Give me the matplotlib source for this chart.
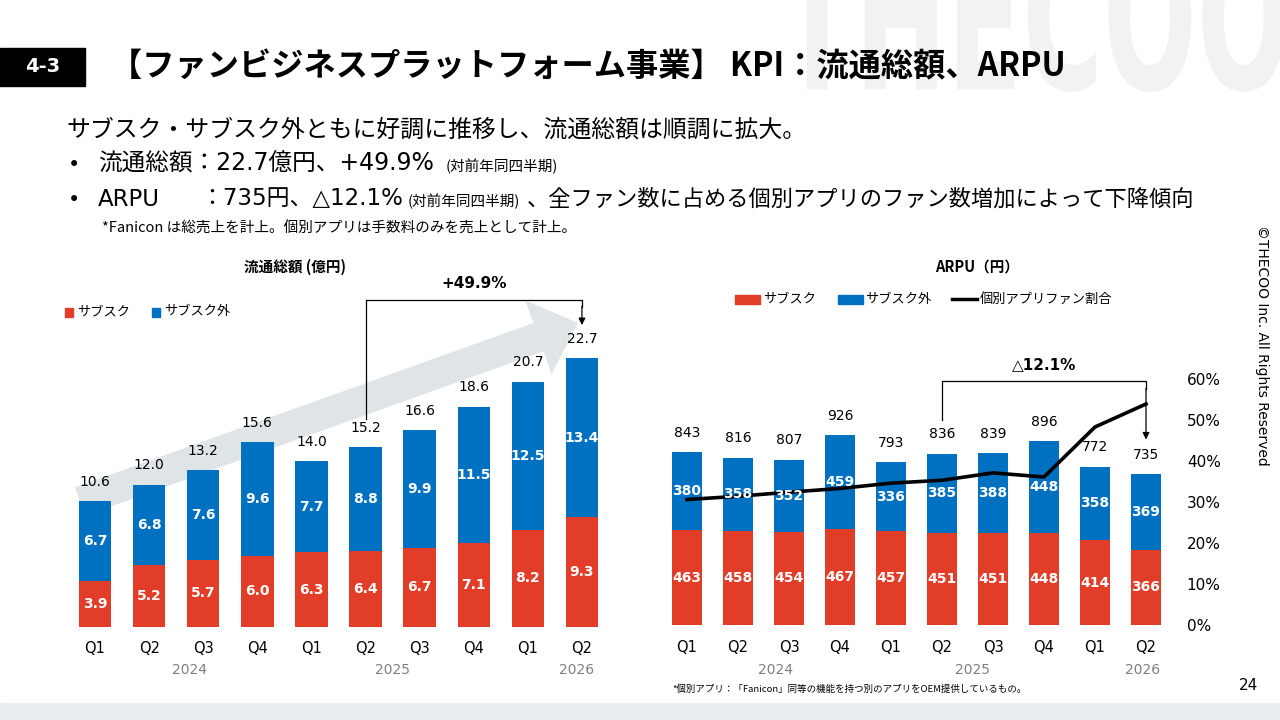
import matplotlib
matplotlib.use('Agg')
import matplotlib.pyplot as plt
from matplotlib.patches import Rectangle, Polygon, PathPatch
from matplotlib.textpath import TextPath
from matplotlib.font_manager import FontProperties
from matplotlib.transforms import Affine2D
import numpy as np

plt.rcParams['font.family'] = ['DejaVu Sans', 'Noto Sans CJK JP']
JP = ['Noto Sans CJK JP', 'DejaVu Sans']

# data
quarters = ['Q1', 'Q2', 'Q3', 'Q4', 'Q1', 'Q2', 'Q3', 'Q4', 'Q1', 'Q2']
years = ['2024', '2025', '2026']
year_pos = [1.75, 5.5, 8.9]

gmv_sub = [3.9, 5.2, 5.7, 6.0, 6.3, 6.4, 6.7, 7.1, 8.2, 9.3]
gmv_other = [6.7, 6.8, 7.6, 9.6, 7.7, 8.8, 9.9, 11.5, 12.5, 13.4]
gmv_total = [10.6, 12.0, 13.2, 15.6, 14.0, 15.2, 16.6, 18.6, 20.7, 22.7]

arpu_sub = [463, 458, 454, 467, 457, 451, 451, 448, 414, 366]
arpu_other = [380, 358, 352, 459, 336, 385, 388, 448, 358, 369]
arpu_total = [843, 816, 807, 926, 793, 836, 839, 896, 772, 735]
app_share = [30.6, 31.4, 32.4, 33.3, 34.6, 35.3, 37.1, 36.1, 48.3, 53.9]  # %

RED = '#E13D29'
BLUE = '#0070C0'
GRAY = '#808080'

fig = plt.figure(figsize=(12.8, 7.2), dpi=100)

# background layer in pixel coords (y down)
bg = fig.add_axes([0, 0, 1, 1])
bg.set_xlim(0, 1280)
bg.set_ylim(720, 0)
bg.axis('off')

# watermark
tp = TextPath((0, 0), 'THECOO', size=1, prop=FontProperties(family='DejaVu Sans', weight='bold'))
ext = tp.get_extents()
sx = 505 / ext.width
sy = 150 / ext.height
tr = Affine2D().translate(-ext.x0, -ext.y0).scale(sx, -sy).translate(780, 92)
bg.add_patch(PathPatch(tr.transform_path(tp), facecolor='#f0f2f4', edgecolor='none', zorder=0))

# header
bg.add_patch(Rectangle((0, 48), 85, 38, color='black'))
bg.text(42.5, 67, '4-3', color='white', fontsize=14, fontweight='bold', ha='center', va='center')
bg.text(110, 67, '【ファンビジネスプラットフォーム事業】 KPI：流通総額、ARPU',
        fontsize=23.2, fontweight='bold', family=JP, va='center')

# body text
bg.text(66, 130, 'サブスク・サブスク外ともに好調に推移し、流通総額は順調に拡大。',
        fontsize=17.2, family=JP, va='center')
bg.text(68, 165, '•', fontsize=15, va='center')
bg.text(98, 164, '流通総額：22.7億円、+49.9%', fontsize=17, va='center')
bg.text(446, 166, '(対前年同四半期)', fontsize=10.5, family=JP, va='center')
bg.text(68, 200, '•', fontsize=15, va='center')
bg.text(98, 199, 'ARPU', fontsize=16.5, va='center')
bg.text(200, 199, '：735円、△12.1%', fontsize=16.5, va='center')
bg.text(408, 201, '(対前年同四半期)', fontsize=10.5, family=JP, va='center')
bg.text(527, 199, '、全ファン数に占める個別アプリのファン数増加によって下降傾向',
        fontsize=16, family=JP, va='center')
bg.text(102, 229, '*Fanicon は総売上を計上。個別アプリは手数料のみを売上として計上。',
        fontsize=10.5, family=JP, va='center')

# big gray arrow behind left chart
tail = np.array([80.0, 501.5])
tip = np.array([578.0, 323.0])
d = tip - tail
u = d / np.hypot(*d)
n = np.array([-u[1], u[0]])
hw, hh, hl = 15, 39, 42
base = tip - u * hl
pts = [tail + n * hw, base + n * hw, base + n * hh, tip, base - n * hh, base - n * hw, tail - n * hw]
bg.add_patch(Polygon(pts, closed=True, facecolor='#dfe4e7', edgecolor='none', zorder=1))

# chart titles and legends
bg.text(295, 267, '流通総額 (億円)', fontsize=10.5, fontweight='bold', family=JP, ha='center', va='center')
bg.text(977, 267, 'ARPU（円）', fontsize=10.5, fontweight='bold', family=JP, ha='center', va='center')

bg.add_patch(Rectangle((65, 308), 8, 9, color=RED))
bg.text(77, 312, 'サブスク', fontsize=9.5, family=JP, va='center')
bg.add_patch(Rectangle((152, 308), 8, 9, color=BLUE))
bg.text(164, 312, 'サブスク外', fontsize=9.5, family=JP, va='center')

bg.add_patch(Rectangle((735, 295), 25, 9, color=RED))
bg.text(763, 299, 'サブスク', fontsize=9.5, family=JP, va='center')
bg.add_patch(Rectangle((838, 295), 25, 9, color=BLUE))
bg.text(865, 299, 'サブスク外', fontsize=9.5, family=JP, va='center')
bg.plot([952, 977], [299, 299], color='black', lw=2.5)
bg.text(980, 299, '個別アプリファン割合', fontsize=9.5, family=JP, va='center')

# footer
bg.add_patch(Rectangle((0, 703), 1280, 17, color='#e9eef1'))
bg.text(672, 689, '*個別アプリ：「Fanicon」同等の機能を持つ別のアプリをOEM提供しているもの。',
        fontsize=6.8, family=JP, va='center')
bg.text(1248, 686, '24', fontsize=11, ha='center', va='center')
bg.text(1262, 345, '©THECOO Inc. All Rights Reserved', fontsize=10, rotation=-90,
        ha='center', va='center')

x = np.arange(len(quarters))

# left chart
axL = fig.add_axes([68 / 1280, 93 / 720, 541 / 1280, 296 / 720])
axL.patch.set_alpha(0)
axL.bar(x, gmv_sub, width=0.6, color=RED, zorder=2)
axL.bar(x, gmv_other, bottom=gmv_sub, width=0.6, color=BLUE, zorder=2)
for i in x:
    axL.text(i, gmv_sub[i] / 2, f'{gmv_sub[i]:.1f}', color='white', fontsize=10,
             fontweight='bold', ha='center', va='center', zorder=3)
    axL.text(i, gmv_sub[i] + gmv_other[i] / 2, f'{gmv_other[i]:.1f}', color='white',
             fontsize=10, fontweight='bold', ha='center', va='center', zorder=3)
    axL.annotate(f'{gmv_total[i]:.1f}', (i, gmv_total[i]), xytext=(0, 14),
                 textcoords='offset points', ha='center', va='center', fontsize=10, zorder=3)
axL.set_xlim(-0.5, 9.5)
axL.set_ylim(0, 25)
axL.set_xticks(x, quarters, fontsize=10.5)
axL.set_yticks([])
axL.tick_params(axis='x', length=0, pad=10)
for s in axL.spines.values():
    s.set_visible(False)
for yr, p in zip(years, year_pos):
    axL.text(p, -0.145, yr, transform=axL.get_xaxis_transform(), color=GRAY,
             fontsize=10, ha='center', va='center')
axL.plot([5, 5, 9, 9], [17.6, 27.6, 27.6, 27.0], color='black', lw=0.9, clip_on=False)
axL.annotate('', xy=(9, 25.5), xytext=(9, 27.1),
             arrowprops=dict(arrowstyle='-|>', color='black', lw=0.9, mutation_scale=10,
                             shrinkA=0, shrinkB=0), annotation_clip=False)
axL.text(7, 29.0, '+49.9%', fontsize=11, fontweight='bold', ha='center', va='center')

# right chart
axR = fig.add_axes([661.5 / 1280, 95 / 720, 510 / 1280, 246 / 720])
axR.patch.set_alpha(0)
axR.bar(x, arpu_sub, width=0.58, color=RED, zorder=2)
axR.bar(x, arpu_other, bottom=arpu_sub, width=0.58, color=BLUE, zorder=2)
axR.set_xlim(-0.5, 9.5)
axR.set_ylim(0, 1200)
axR.set_xticks(x, quarters, fontsize=10.5)
axR.set_yticks([])
axR.tick_params(axis='x', length=0, pad=11)
for s in axR.spines.values():
    s.set_visible(False)
for yr, p in zip(years, [1.73, 5.6, 8.94]):
    axR.text(p, -0.183, yr, transform=axR.get_xaxis_transform(), color=GRAY,
             fontsize=10, ha='center', va='center')
axR.plot([5, 5, 9, 9], [1000, 1190, 1190, 1150], color='black', lw=0.9, clip_on=False)
axR.annotate('', xy=(9, 905), xytext=(9, 1155),
             arrowprops=dict(arrowstyle='-|>', color='black', lw=0.9, mutation_scale=10,
                             shrinkA=0, shrinkB=0), annotation_clip=False)
axR.text(7, 1268, '△12.1%', fontsize=11, fontweight='bold', ha='center', va='center')

axR2 = axR.twinx()
axR2.set_ylim(0, 60)
axR2.plot(x, app_share, color='black', lw=2.6, zorder=2)
axR2.set_yticks(range(0, 61, 10), [f'{v}%' for v in range(0, 61, 10)], fontsize=11)
axR2.tick_params(axis='y', length=0, pad=11)
for s in axR2.spines.values():
    s.set_visible(False)
for i in x:
    axR2.text(i, arpu_sub[i] / 2, f'{arpu_sub[i]}', transform=axR.transData, color='white',
              fontsize=10, fontweight='bold', ha='center', va='center', zorder=3)
    axR2.text(i, arpu_sub[i] + arpu_other[i] / 2, f'{arpu_other[i]}', transform=axR.transData,
              color='white', fontsize=10, fontweight='bold', ha='center', va='center', zorder=3)
    axR.annotate(f'{arpu_total[i]}', (i, arpu_total[i]), xytext=(0, 14),
                 textcoords='offset points', ha='center', va='center', fontsize=10, zorder=3)

fig.savefig('out.png', dpi=100)
